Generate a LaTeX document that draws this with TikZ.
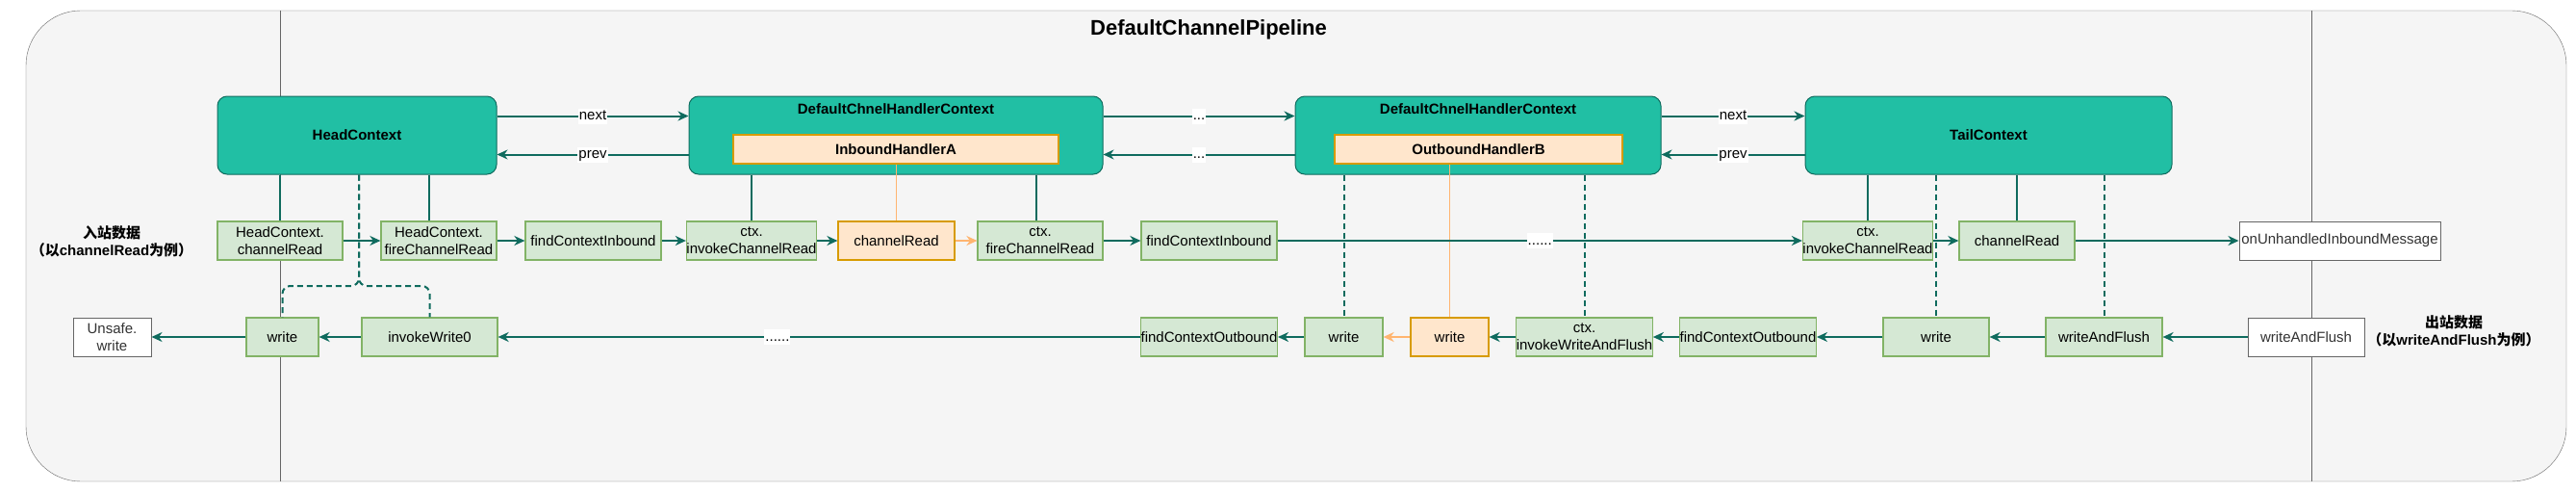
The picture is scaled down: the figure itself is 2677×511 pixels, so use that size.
\documentclass[tikz,border=0pt]{standalone}
\usepackage{fontspec}
\setmainfont{Liberation Sans}
\newfontfamily\cjk{Noto Sans CJK SC}
\usetikzlibrary{arrows.meta,calc}
\definecolor{laneFill}{HTML}{F5F5F5}
\definecolor{laneLine}{HTML}{666666}
\definecolor{ctxFill}{HTML}{21BFA4}
\definecolor{ctxLine}{HTML}{0F6B5E}
\definecolor{callFill}{HTML}{D5E8D4}
\definecolor{callLine}{HTML}{82B366}
\definecolor{hdlFill}{HTML}{FFE6CC}
\definecolor{hdlLine}{HTML}{D79B00}
\definecolor{hdlFlow}{HTML}{FFB570}
\definecolor{plainText}{HTML}{333333}

\begin{document}
\begin{tikzpicture}[x=1pt, y=-1pt,
    every node/.style={font=\fontsize{15}{18}\selectfont, inner sep=0pt},
    ctxbox/.style={draw=ctxLine, fill=ctxFill, line width=1pt, rounded corners=10pt,
        minimum height=81pt, font=\fontsize{15}{18}\selectfont\bfseries},
    callbox/.style={draw=callLine, fill=callFill, line width=1.2pt, minimum height=40pt, align=center},
    hdlbox/.style={draw=hdlLine, fill=hdlFill, line width=1.2pt, align=center},
    plainbox/.style={draw=laneLine, fill=white, line width=1pt, minimum height=40pt,
        align=center, text=plainText},
    flow/.style={draw=ctxLine, line width=2pt, -{Stealth[length=11pt, width=10pt, inset=3.5pt]}},
    hdlflow/.style={draw=hdlFlow, line width=2pt, -{Stealth[length=11pt, width=10pt, inset=3.5pt]}},
    link/.style={draw=ctxLine, line width=2pt},
    hdllink/.style={draw=hdlFlow, line width=1.5pt},
    dashlink/.style={draw=ctxLine, line width=2pt, dash pattern=on 6pt off 4pt},
    tag/.style={fill=white, inner sep=1pt, text height=11pt, text depth=3pt}
]
    \useasboundingbox (0,0) rectangle (2677,511);

    % Pipeline frame and lanes
    \draw[laneLine, fill=laneFill, rounded corners=57pt] (27,11) rectangle (2667,500);
    \draw[laneLine] (291,11) -- (291,500);
    \draw[laneLine] (2402,11) -- (2402,500);
    \node[font=\fontsize{22}{26}\selectfont\bfseries] (title) at (1256,31) {DefaultChannelPipeline};

    \node[font=\fontsize{15}{18}\selectfont\bfseries, align=center] (inNote) at (116,251)
        {{\cjk 入站数据}\\{\cjk （以}channelRead{\cjk 为例）}};
    \node[font=\fontsize{15}{18}\selectfont\bfseries, align=center] (outNote) at (2550,344)
        {{\cjk 出站数据}\\{\cjk （以}writeAndFlush{\cjk 为例）}};

    % Contexts
    \node[ctxbox, minimum width=290pt] (head) at (371,140.5) {HeadContext};
    \node[ctxbox, minimum width=430pt,
        label={[anchor=north, yshift=-8pt, font=\fontsize{15}{18}\selectfont\bfseries]north:DefaultChnelHandlerContext}]
        (ctxA) at (931,140.5) {};
    \node[hdlbox, minimum width=338pt, minimum height=30pt, font=\fontsize{15}{18}\selectfont\bfseries]
        (hdlA) at (931,155) {InboundHandlerA};
    \node[ctxbox, minimum width=380pt,
        label={[anchor=north, yshift=-8pt, font=\fontsize{15}{18}\selectfont\bfseries]north:DefaultChnelHandlerContext}]
        (ctxB) at (1536,140.5) {};
    \node[hdlbox, minimum width=299pt, minimum height=30pt, font=\fontsize{15}{18}\selectfont\bfseries]
        (hdlB) at (1536.5,155) {OutboundHandlerB};
    \node[ctxbox, minimum width=381pt] (tail) at (2066.5,140.5) {TailContext};

    % Inbound calls
    \node[callbox, minimum width=130pt] (headRead) at (291,250) {HeadContext.\\channelRead};
    \node[callbox, minimum width=120pt] (headFire) at (456,250) {HeadContext.\\fireChannelRead};
    \node[callbox, minimum width=141pt] (findInA) at (616.5,250) {findContextInbound};
    \node[callbox, minimum width=130pt] (invokeReadA) at (781,250) {ctx.\\invokeChannelRead};
    \node[hdlbox, minimum width=121pt, minimum height=40pt] (readA) at (931.5,250) {channelRead};
    \node[callbox, minimum width=130pt] (fireA) at (1081,250) {ctx.\\fireChannelRead};
    \node[callbox, minimum width=141pt] (findInB) at (1256.5,250) {findContextInbound};
    \node[callbox, minimum width=130pt] (invokeReadT) at (1941,250) {ctx.\\invokeChannelRead};
    \node[callbox, minimum width=120pt] (readT) at (2096,250) {channelRead};
    \node[plainbox, minimum width=209pt] (unhandled) at (2431.5,250) {onUnhandledInboundMessage};

    % Outbound calls
    \node[plainbox, minimum width=81pt] (unsafe) at (116.5,350) {Unsafe.\\write};
    \node[callbox, minimum width=75pt] (writeH) at (293.5,350) {write};
    \node[callbox, minimum width=141pt] (invokeW0) at (446.5,350) {invokeWrite0};
    \node[callbox, minimum width=141pt] (findOutA) at (1256.5,350) {findContextOutbound};
    \node[callbox, minimum width=81pt] (writeB) at (1396.5,350) {write};
    \node[hdlbox, minimum width=81pt, minimum height=40pt] (writeBo) at (1506.5,350) {write};
    \node[callbox, minimum width=141pt] (invokeWF) at (1646.5,350) {ctx.\\invokeWriteAndFlush};
    \node[callbox, minimum width=141pt] (findOutB) at (1816.5,350) {findContextOutbound};
    \node[callbox, minimum width=110pt] (writeT) at (2012,350) {write};
    \node[callbox, minimum width=121pt] (flushT) at (2186.5,350) {writeAndFlush};
    \node[plainbox, minimum width=121pt] (flushIn) at (2396.5,350) {writeAndFlush};

    % next / prev links
    \draw[flow] ([yshift=20pt]head.east) -- ([yshift=20pt]ctxA.west) node[midway, tag] {next};
    \draw[flow] ([yshift=-20pt]ctxA.west) -- ([yshift=-20pt]head.east) node[midway, tag] {prev};
    \draw[flow] ([yshift=20pt]ctxA.east) -- ([yshift=20pt]ctxB.west) node[midway, tag] {...};
    \draw[flow] ([yshift=-20pt]ctxB.west) -- ([yshift=-20pt]ctxA.east) node[midway, tag] {...};
    \draw[flow] ([yshift=20pt]ctxB.east) -- ([yshift=20pt]tail.west) node[midway, tag] {next};
    \draw[flow] ([yshift=-20pt]tail.west) -- ([yshift=-20pt]ctxB.east) node[midway, tag] {prev};

    % Context to call links
    \draw[link] (head.south -| headRead.north) -- (headRead.north);
    \draw[link] ($(head.south -| headFire.north)+(-10,0)$) -- ($(headFire.north)+(-10,0)$);
    \draw[link] (ctxA.south -| invokeReadA.north) -- (invokeReadA.north);
    \draw[link] ($(ctxA.south -| fireA.north)+(-4,0)$) -- ($(fireA.north)+(-4,0)$);
    \draw[hdllink] (hdlA.south -| readA.north) -- (readA.north);
    \draw[link] (tail.south -| invokeReadT.north) -- (invokeReadT.north);
    \draw[link] (tail.south -| readT.north) -- (readT.north);
    \draw[hdllink] (hdlB.south -| writeBo.north) -- (writeBo.north);
    \draw[dashlink] (ctxB.south -| writeB.north) -- (writeB.north);
    \draw[dashlink] (ctxB.south -| invokeWF.north) -- (invokeWF.north);
    \draw[dashlink] (tail.south -| writeT.north) -- (writeT.north);
    \draw[dashlink] (tail.south -| flushT.north) -- (flushT.north);
    \coordinate (headSplit) at (373,297);
    \draw[dashlink, rounded corners=8pt] (head.south -| headSplit) -- (headSplit) -| (writeH.north);
    \draw[dashlink, rounded corners=8pt] (head.south -| headSplit) -- (headSplit) -| (invokeW0.north);

    % Inbound flow
    \draw[flow] (headRead) -- (headFire);
    \draw[flow] (headFire) -- (findInA);
    \draw[flow] (findInA) -- (invokeReadA);
    \draw[flow] (invokeReadA) -- (readA);
    \draw[hdlflow] (readA) -- (fireA);
    \draw[flow] (fireA) -- (findInB);
    \draw[flow] (findInB) -- (invokeReadT) node[midway, tag] {......};
    \draw[flow] (invokeReadT) -- (readT);
    \draw[flow] (readT) -- (unhandled);

    % Outbound flow
    \draw[flow] (flushIn) -- (flushT);
    \draw[flow] (flushT) -- (writeT);
    \draw[flow] (writeT) -- (findOutB);
    \draw[flow] (findOutB) -- (invokeWF);
    \draw[flow] (invokeWF) -- (writeBo);
    \draw[hdlflow] (writeBo) -- (writeB);
    \draw[flow] (writeB) -- (findOutA);
    \draw[flow] (findOutA) -- (invokeW0) node[pos=0.565, tag] {......};
    \draw[flow] (invokeW0) -- (writeH);
    \draw[flow] (writeH) -- (unsafe);
\end{tikzpicture}
\end{document}
